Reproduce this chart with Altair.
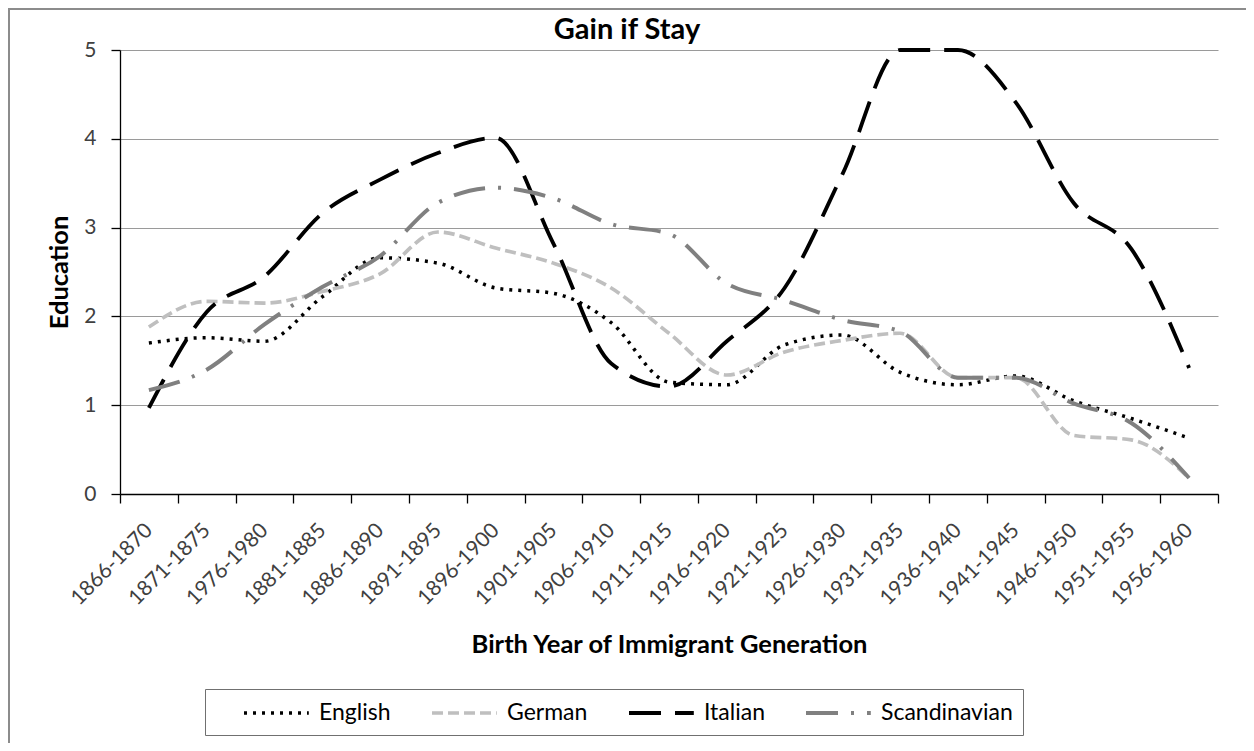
import altair as alt
import pandas as pd

periods = ["1866-1870", "1871-1875", "1976-1980", "1881-1885", "1886-1890",
           "1891-1895", "1896-1900", "1901-1905", "1906-1910", "1911-1915",
           "1916-1920", "1921-1925", "1926-1930", "1931-1935", "1936-1940",
           "1941-1945", "1946-1950", "1951-1955", "1956-1960"]

english = [1.70, 1.76, 1.72, 2.22, 2.66, 2.60, 2.32, 2.26, 1.93, 1.26,
           1.23, 1.68, 1.79, 1.37, 1.23, 1.33, 1.05, 0.85, 0.63]
german = [1.88, 2.17, 2.15, 2.28, 2.48, 2.95, 2.77, 2.60, 2.32, 1.81,
          1.34, 1.60, 1.73, 1.81, 1.31, 1.31, 0.66, 0.61, 0.18]
italian = [0.97, 2.05, 2.45, 3.16, 3.54, 3.84, 4.01, 2.82, 1.47, 1.21,
           1.72, 2.32, 3.60, 5.00, 5.00, 4.41, 3.28, 2.76, 1.42]
scandinavian = [1.17, 1.40, 1.91, 2.33, 2.68, 3.28, 3.45, 3.33, 3.04, 2.93,
                2.37, 2.18, 1.96, 1.83, 1.31, 1.31, 1.02, 0.80, 0.18]

series_names = ["English", "German", "Italian", "Scandinavian"]
series_colors = ["#000000", "#bfbfbf", "#000000", "#808080"]
series_dashes = [[3, 6], [11, 5], [32, 14], [32, 13, 3, 13]]
series_widths = [3.5, 4, 4.5, 4]

rows = []
for name, vals in zip(series_names, [english, german, italian, scandinavian]):
    for p, v in zip(periods, vals):
        rows.append({"Period": p, "Education": v, "Group": name})
df = pd.DataFrame(rows)

FONT = "Lato"

legend_kw = dict(title=None, orient="none", legendX=85, legendY=639,
                 direction="horizontal", symbolType="M-1,0H4.4",
                 symbolSize=576, symbolOffset=27, labelOffset=49)

lines = alt.Chart(df).mark_line(interpolate="monotone", strokeCap="butt").encode(
    x=alt.X("Period:N", sort=periods, bandPosition=0.5,
            scale=alt.Scale(type="band", paddingInner=0, paddingOuter=0),
            axis=alt.Axis(title="Birth Year of Immigrant Generation",
                          labelAngle=-45, labelAlign="right", labelBaseline="middle",
                          tickBand="extent", grid=False, tickSize=9,
                          labelPadding=24, labelOffset=0,
                          titleY=158, titleBaseline="alphabetic")),
    y=alt.Y("Education:Q", scale=alt.Scale(domain=[0, 5], nice=False),
            axis=alt.Axis(title="Education", values=[0, 1, 2, 3, 4, 5], format="d",
                          tickSize=9, labelPadding=15, grid=True,
                          titleX=-53, titleBaseline="alphabetic")),
    color=alt.Color("Group:N", scale=alt.Scale(domain=series_names, range=series_colors),
                    legend=alt.Legend(**legend_kw)),
    strokeDash=alt.StrokeDash("Group:N", scale=alt.Scale(domain=series_names, range=series_dashes),
                              legend=alt.Legend(**legend_kw)),
    strokeWidth=alt.StrokeWidth("Group:N", scale=alt.Scale(domain=series_names, range=series_widths),
                                legend=None),
)

frame = alt.Chart(pd.DataFrame({"k": [0]})).mark_rect(
    fillOpacity=0, stroke="#8c8c8c", strokeWidth=2
).encode(x=alt.value(-111), x2=alt.value(1300), y=alt.value(-41), y2=alt.value(900))

chart = alt.layer(frame, lines).properties(
    width=1098, height=444,
    autosize=alt.AutoSizeParams(type="none"),
    padding={"left": 112, "top": 42, "right": 28, "bottom": 249},
    title=alt.TitleParams("Gain if Stay", font=FONT, fontSize=29, fontWeight="bold",
                          color="#000000", anchor="middle", frame="group", dx=-42,
                          baseline="alphabetic", offset=-60),
).configure_view(stroke=None).configure_axis(
    labelFont=FONT, labelFontSize=21, labelColor="#404040",
    titleFont=FONT, titleFontSize=25.5, titleFontWeight="bold", titleColor="#000000",
    domainColor="#000000", domainWidth=1.3, tickColor="#000000", tickWidth=1.3,
    gridColor="#9a9a9a", gridWidth=1.2,
).configure_legend(
    labelFont=FONT, labelFontSize=23, labelColor="#000000",
    symbolStrokeWidth=3.5,
    strokeColor="#707070", fillColor="#ffffff", padding=10,
    columnPadding=12,
)

chart.save("out.html", embed_options={"renderer": "svg", "actions": False})
